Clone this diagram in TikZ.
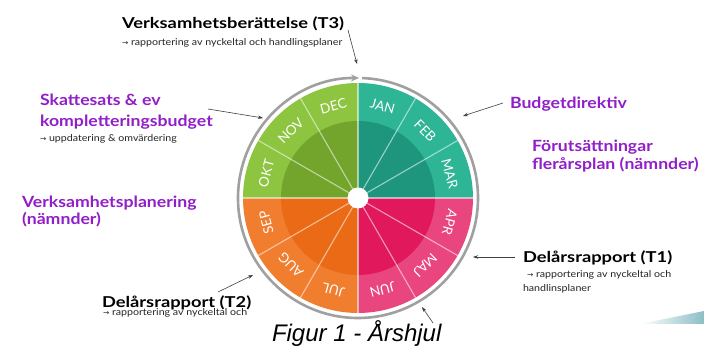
\documentclass[tikz,border=0pt]{standalone}
\usepackage{fontspec}
\setmainfont{Lato}
\newfontfamily\blackf[FakeStretch=1.22]{Lato}
\newfontfamily\purpf[FakeStretch=1.14]{Lato}
\newfontfamily\subf[FakeStretch=1.12]{Lato}
\newfontfamily\capfont{Liberation Sans}
\newfontfamily\symf{DejaVu Sans}
\usetikzlibrary{arrows.meta}
\definecolor{purp}{RGB}{145,30,200}
\definecolor{tealo}{RGB}{45,181,150}
\definecolor{teali}{RGB}{30,150,126}
\definecolor{pinko}{RGB}{233,70,128}
\definecolor{pinki}{RGB}{226,24,92}
\definecolor{orao}{RGB}{240,126,46}
\definecolor{orai}{RGB}{234,106,22}
\definecolor{greeno}{RGB}{141,196,64}
\definecolor{greeni}{RGB}{115,165,44}
\definecolor{ringc}{RGB}{160,160,160}
\definecolor{swoosh}{RGB}{140,190,198}
\newcommand{\arr}{{\symf\fontsize{7.5}{8}\selectfont →}}
\tikzset{
  txt/.style={anchor=base west, inner sep=0pt, outer sep=0pt},
  ptitle/.style={txt, text=purp, font=\purpf\bfseries\fontsize{15.5}{18}\selectfont},
  btitle/.style={txt, text=black, font=\blackf\bfseries\fontsize{15}{17}\selectfont},
  subtxt/.style={txt, text=black!85, font=\subf\fontsize{9.5}{11}\selectfont},
  month/.style={text=white, inner sep=0pt, font=\fontsize{13.5}{15}\selectfont},
  divline/.style={draw=white, draw opacity=0.55, line width=1.1pt},
  conn/.style={draw=black!75, line width=0.6pt, -{Stealth[length=5pt,width=3.5pt]}},
  ringline/.style={draw=ringc, line width=2.6pt}
}
\begin{document}
\begin{tikzpicture}[x=1pt,y=1pt]
\useasboundingbox (0,0) rectangle (704,350);
\fill[white] (0,0) rectangle (704,350);

% wheel
\coordinate (c) at (358,152);
\fill[tealo] (c) -- ++(0:115) arc (0:90:115) -- cycle;
\fill[pinko] (c) -- ++(-90:115) arc (-90:0:115) -- cycle;
\fill[orao] (c) -- ++(180:115) arc (180:270:115) -- cycle;
\fill[greeno] (c) -- ++(90:115) arc (90:180:115) -- cycle;
\fill[teali] (c) -- ++(0:77) arc (0:90:77) -- cycle;
\fill[pinki] (c) -- ++(-90:77) arc (-90:0:77) -- cycle;
\fill[orai] (c) -- ++(180:77) arc (180:270:77) -- cycle;
\fill[greeni] (c) -- ++(90:77) arc (90:180:77) -- cycle;
\foreach \a in {0,30,...,330} \draw[divline] (c) -- ++(\a:115);
\fill[white] (c) circle (10.5);
\draw[ringline, -{Stealth[length=8pt,width=7pt]}] ([shift={(88:120)}]c) arc (88:-270.5:120);

\foreach \m/\a in {JAN/75,FEB/45,MAR/15,APR/-15,MAJ/-45,JUN/-75,JUL/-105,AUG/-135,SEP/-165,OKT/165,NOV/135,DEC/105}
  \node[month, rotate=\a-90] (m-\m) at ([shift={(\a:95)}]c) {\m};

% texts
\node[btitle] (t3) at (122,321) {Verksamhetsberättelse (T3)};
\node[subtxt] (t3s) at (122,304) {\arr\ rapportering av nyckeltal och handlingsplaner};

\node[ptitle] (sk1) at (40,244) {Skattesats \& ev};
\node[ptitle] (sk2) at (40,223) {kompletteringsbudget};
\node[subtxt] (sk3) at (40,208) {\arr\ uppdatering \& omvärdering};

\node[ptitle] (bd) at (510,241) {Budgetdirektiv};
\node[ptitle] (fp1) at (532,198) {Förutsättningar};
\node[ptitle] (fp2) at (532,180) {flerårsplan (nämnder)};

\node[ptitle] (vp1) at (22,142) {Verksamhetsplanering};
\node[ptitle] (vp2) at (22,125) {(nämnder)};

\node[btitle] (t1) at (523,87) {Delårsrapport (T1)};
\node[subtxt] (t1s) at (527,72) {\arr\ rapportering av nyckeltal och};
\node[subtxt] (t1t) at (523,58) {handlinsplaner};

\node[btitle] (t2) at (102,42) {Delårsrapport (T2)};
\node[subtxt] (t2s) at (103,34) {\arr\ rapportering av nyckeltal och};

\node[txt, font=\capfont\itshape\fontsize{24}{28}\selectfont] (cap) at (272,8) {Figur 1 - Årshjul};

% connectors
\coordinate (a1s) at (348,320); \coordinate (a1e) at (357,286);
\coordinate (a2s) at (208,241); \coordinate (a2e) at (263,232);
\coordinate (a3s) at (503,247); \coordinate (a3e) at (463,234);
\coordinate (a4s) at (515,93);  \coordinate (a4e) at (473,93);
\coordinate (a5s) at (218,58);  \coordinate (a5e) at (253,75);
\coordinate (a6s) at (433,27);  \coordinate (a6e) at (422,43);
\draw[conn] (a1s) -- (a1e);
\draw[conn] (a2s) -- (a2e);
\draw[conn] (a3s) -- (a3e);
\draw[conn] (a4s) -- (a4e);
\draw[conn] (a5s) -- (a5e);
\draw[conn] (a6s) -- (a6e);

% swoosh
\shade[left color=white, right color=swoosh] (640,26) -- (704,39) -- (704,26) -- cycle;
\end{tikzpicture}
\end{document}
